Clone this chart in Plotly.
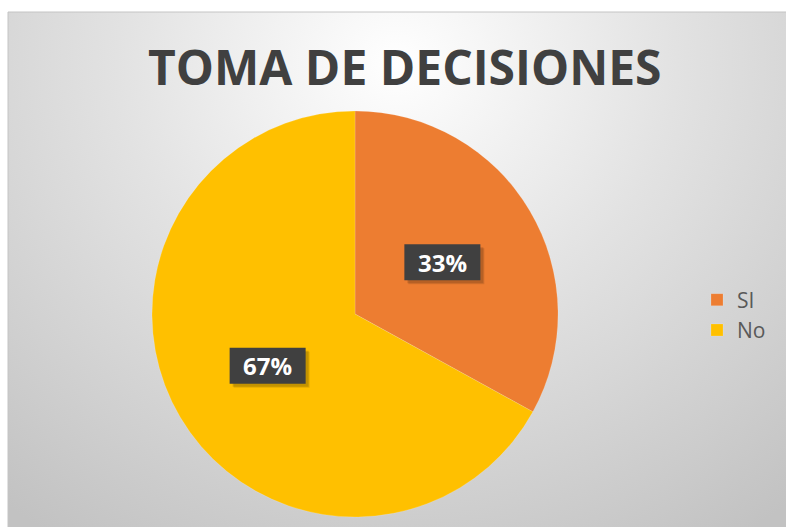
import math
import plotly.graph_objects as go

# ---- data ----
categories = ["SI", "No"]
values = [33, 67]
colors = ["#ED7D31", "#FFC000"]
title_text = "TOMA DE DECISIONES"

# ---- geometry (page pixels) ----
W, H = 786, 527          # page size
PL, PT = 8, 12           # plot area top-left on page
PW, PH = W - PL, H - PT
CX, CY, R = 355, 314, 203
BW, BH = 76, 36          # label box size


def fx(px):
    return (px - PL) / PW


def fy(py):
    return (H - py) / PH


fig = go.Figure()

# background with radial gradient
gcx, gcy = 0.5, 0.9
fig.add_trace(go.Scatter(
    x=[gcx - 0.8, gcx + 0.8, gcx + 0.8, gcx - 0.8, gcx - 0.8],
    y=[gcy - 1.1, gcy - 1.1, gcy + 1.1, gcy + 1.1, gcy - 1.1],
    mode="none", fill="toself",
    fillgradient=dict(type="radial", colorscale=[[0, "#ffffff"], [0.45, "#e2e2e2"], [1, "#c2c2c2"]]),
    showlegend=False, hoverinfo="skip",
))

fig.add_trace(go.Pie(
    labels=categories, values=values,
    marker=dict(colors=colors, line=dict(color="rgba(255,255,255,0.3)", width=0.5)),
    sort=False, direction="clockwise", rotation=0,
    textinfo="none", hoverinfo="label+percent",
    domain=dict(x=[fx(CX - R), fx(CX + R)], y=[fy(CY + R), fy(CY - R)]),
))

# data labels in dark boxes
total = sum(values)
cum = 0
annotations = []
shapes = []
for v in values:
    mid = (cum + v / 2) / total * 2 * math.pi
    cum += v
    px = CX + 0.5 * R * math.sin(mid)
    py = CY - 0.5 * R * math.cos(mid)
    pct = f"{round(v / total * 100)}%"
    # soft shadow
    for d, a in ((4, 0.10), (3, 0.14)):
        shapes.append(dict(
            type="rect", xref="paper", yref="paper",
            x0=fx(px - BW / 2 + d), x1=fx(px + BW / 2 + d),
            y0=fy(py + BH / 2 + d), y1=fy(py - BH / 2 + d),
            fillcolor=f"rgba(0,0,0,{a})", line=dict(width=0), layer="above",
        ))
    shapes.append(dict(
        type="rect", xref="paper", yref="paper",
        x0=fx(px - BW / 2), x1=fx(px + BW / 2),
        y0=fy(py + BH / 2), y1=fy(py - BH / 2),
        fillcolor="#404040", line=dict(width=0), layer="above",
    ))
    annotations.append(dict(
        x=fx(px), y=fy(py), xref="paper", yref="paper", showarrow=False,
        xanchor="center", yanchor="middle",
        text=f"<b>{pct}</b>", font=dict(family="Open Sans", size=24, color="#ffffff"),
    ))

annotations.append(dict(
    x=fx(405), y=fy(67), xref="paper", yref="paper", showarrow=False,
    text=f"<b>{title_text}</b>", font=dict(family="Open Sans", size=48, color="#404040"),
    xanchor="center", yanchor="middle",
))

shapes.append(dict(type="rect", xref="paper", yref="paper", x0=0, x1=1.01, y0=-0.01, y1=1,
                   line=dict(color="#c4c4c4", width=1), layer="above"))

fig.update_layout(
    width=W, height=H,
    margin=dict(l=PL, r=0, t=PT, b=0),
    paper_bgcolor="#ffffff", plot_bgcolor="#d8d8d8",
    xaxis=dict(range=[0, 1], visible=False, fixedrange=True),
    yaxis=dict(range=[0, 1], visible=False, fixedrange=True),
    annotations=annotations,
    shapes=shapes,
    legend=dict(
        x=fx(697), y=fy(315), xanchor="left", yanchor="middle",
        font=dict(family="Open Sans", size=21, color="#595959"),
        bgcolor="rgba(0,0,0,0)",
    ),
)

fig.write_html(
    "out.html",
    config={"displayModeBar": False},
    post_script="document.body.style.margin='0';document.body.style.overflow='hidden';",
)
